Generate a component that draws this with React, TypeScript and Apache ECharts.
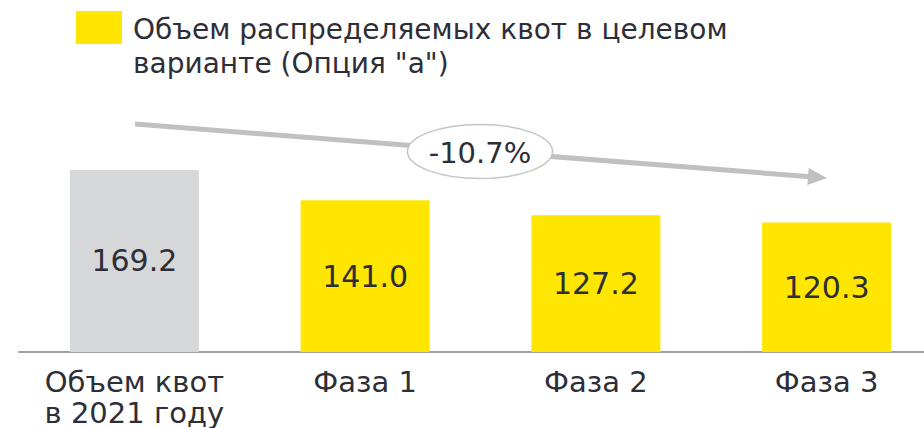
import React, { useEffect, useRef } from "react";
import * as echarts from "echarts";

const categories = ["Объем квот\nв 2021 году", "Фаза 1", "Фаза 2", "Фаза 3"];
const baseValues: (number | string)[] = [169.2, "-", "-", "-"];
const targetValues: (number | string)[] = ["-", 141.0, 127.2, 120.3];
const legendLabel = 'Объем распределяемых квот в целевом\nварианте (Опция "а")';
const changeLabel = "-10.7%";

const FONT = "'DejaVu Sans', sans-serif";
const TEXT = "#2e2e38";

export default function App() {
  const ref = useRef<HTMLDivElement>(null);
  useEffect(() => {
    if (!ref.current) return;
    const chart = echarts.init(ref.current, undefined, { renderer: "svg" });
    const valueLabel = {
      show: true,
      position: "inside" as const,
      color: TEXT,
      fontSize: 30,
      fontFamily: FONT,
      formatter: (p: any) => Number(p.value).toFixed(1),
    };
    chart.setOption({
      animation: false,
      textStyle: { fontFamily: FONT },
      grid: {
        left: 19,
        width: 923,
        top: 83,
        bottom: 76,
        containLabel: false,
        outerBoundsMode: "none",
      },
      xAxis: {
        type: "category",
        data: categories,
        axisLine: { show: true, lineStyle: { color: "#a0a0a0", width: 2 } },
        axisTick: { show: false },
        axisLabel: {
          color: TEXT,
          fontSize: 29,
          fontFamily: FONT,
          lineHeight: 31,
          margin: 14,
          interval: 0,
        },
      },
      yAxis: {
        type: "value",
        min: 0,
        max: 250,
        show: false,
        splitLine: { show: false },
      },
      series: [
        {
          name: "Объем квот в 2021 году",
          type: "bar",
          data: baseValues,
          barWidth: 129,
          barGap: "-100%",
          itemStyle: { color: "#d6d7d9" },
          label: valueLabel,
        },
        {
          name: legendLabel,
          type: "bar",
          data: targetValues,
          barWidth: 129,
          barGap: "-100%",
          itemStyle: { color: "#ffe600" },
          label: valueLabel,
        },
      ],
      graphic: [
        {
          type: "rect",
          shape: { x: 76, y: 11, width: 46, height: 33 },
          style: { fill: "#ffe600" },
        },
        {
          type: "text",
          x: 133,
          y: 12,
          style: {
            text: legendLabel,
            font: `28px ${FONT}`,
            fill: TEXT,
            lineHeight: 34,
            verticalAlign: "top",
            align: "left",
          },
        },
        {
          type: "line",
          shape: { x1: 135, y1: 124, x2: 810, y2: 176.7 },
          style: { stroke: "#c0c0c0", lineWidth: 5 },
        },
        {
          type: "polygon",
          shape: { points: [[827, 178], [807.4, 185], [808.7, 168]] },
          style: { fill: "#c0c0c0" },
        },
        {
          type: "ellipse",
          shape: { cx: 480, cy: 151.5, rx: 72.5, ry: 27 },
          style: { fill: "#ffffff", stroke: "#c4c4c4", lineWidth: 1.5 },
        },
        {
          type: "text",
          x: 480,
          y: 153,
          style: {
            text: changeLabel,
            font: `29px ${FONT}`,
            fill: TEXT,
            align: "center",
            verticalAlign: "middle",
          },
        },
      ],
    });
    return () => chart.dispose();
  }, []);
  return <div ref={ref} style={{ width: 924, height: 428, position: "absolute", left: 0, top: 0 }} />;
}
